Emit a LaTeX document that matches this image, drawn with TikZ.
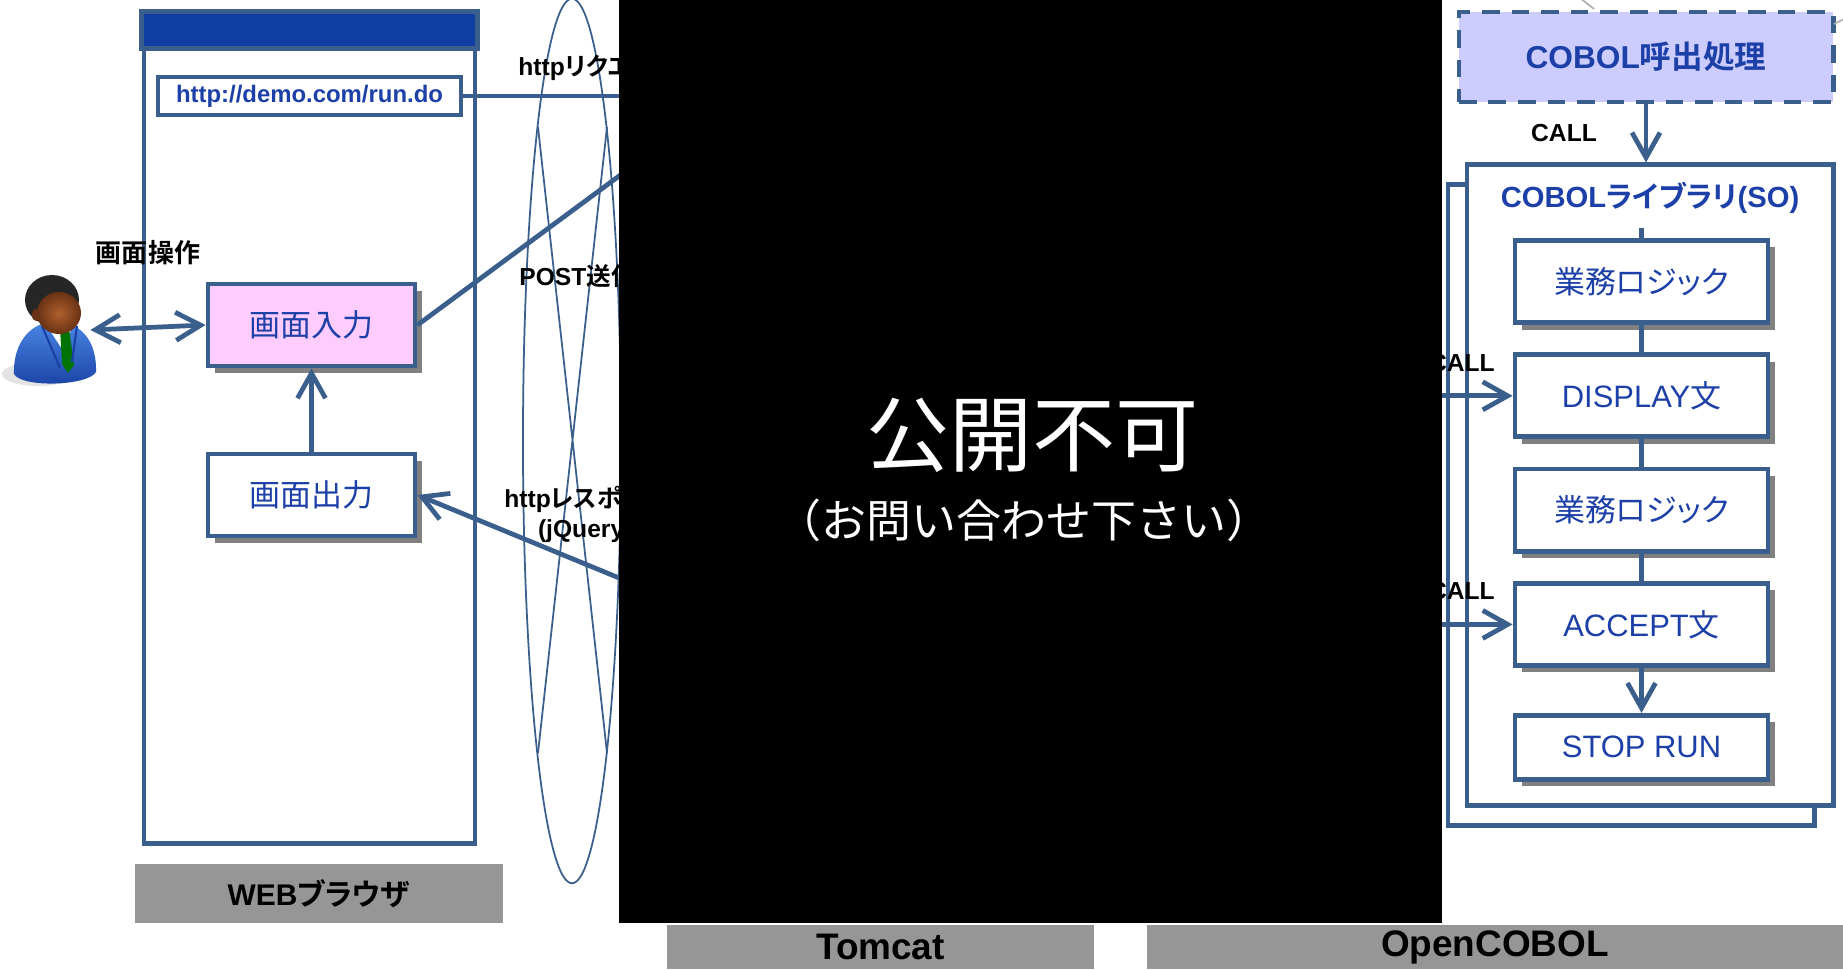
\documentclass[tikz,border=0pt]{standalone}
\usepackage{fontspec}
\setmainfont{Liberation Sans}
\newfontfamily\jp{Noto Sans CJK JP}[BoldFont={Noto Sans CJK JP Bold},RawFeature=+palt]
\newfontfamily\jpfull{Noto Sans CJK JP}
\usetikzlibrary{positioning,arrows.meta,shadows}

\definecolor{frame}{RGB}{58,95,140}
\definecolor{txtblue}{RGB}{28,64,168}
\definecolor{barblue}{RGB}{16,62,165}
\definecolor{inpink}{RGB}{255,204,255}
\definecolor{calllav}{RGB}{204,204,255}
\definecolor{tag}{RGB}{150,150,150}
\definecolor{suitlight}{RGB}{75,135,228}
\definecolor{suitdark}{RGB}{25,65,165}
\definecolor{skin}{RGB}{175,95,45}
\definecolor{skindark}{RGB}{105,50,20}

\begin{document}
\begin{tikzpicture}[x=0.01cm,y=-0.01cm,
  node distance=0.275cm,
  line width=1.35pt,
  box/.style={draw=frame,fill=white,text=txtblue,minimum width=2.07cm,minimum height=0.82cm,
    font=\fontsize{8.8}{10}\selectfont,
    drop shadow={shadow xshift=0.07cm,shadow yshift=-0.07cm,fill=gray,opacity=1}},
  stepbox/.style={box,minimum width=2.53cm},
  lbl/.style={font=\bfseries\fontsize{7}{8.5}\selectfont,inner sep=0pt},
  tagbox/.style={fill=tag,inner sep=0pt,font=\bfseries\fontsize{10.5}{12}\selectfont},
  arr/.style={draw=frame,-{Straight Barb[length=2.5mm,width=2.8mm]}},
  dblarr/.style={draw=frame,{Straight Barb[length=2.5mm,width=2.8mm]}-{Straight Barb[length=2.5mm,width=2.8mm]}},
  wire/.style={draw=frame},
  thin/.style={draw=frame,line width=0.5pt}
  ]
  \useasboundingbox (0,0) rectangle (1843,969);
  \fill[white] (0,0) rectangle (1843,969);

  \draw[thin] (572,441) ellipse [x radius=0.49cm,y radius=4.42cm];
  \draw[thin] (538,127) -- (607,753) (607,127) -- (538,753);

  \node[draw=frame,fill=white,minimum width=3.31cm,minimum height=8.29cm] (browser) at (309.5,428.5) {};
  \draw[draw=frame,fill=barblue] (browser.north west) rectangle ([yshift=-0.37cm]browser.north east);
  \node[draw=frame,fill=white,minimum width=3.03cm,minimum height=0.38cm,inner sep=0pt,
    text=txtblue,font=\bfseries\fontsize{6.8}{8}\selectfont] (url) at (309.5,96) {http://demo.com/run.do};
  \node[box,fill=inpink] (nin) at (311.5,325) {\jp 画面入力};
  \node[box] (nout) at (311.5,495) {\jp 画面出力};

  \node[minimum width=0.66cm,minimum height=1.1cm,inner sep=0pt] (user) at (55,330) {};
  \fill[gray!22] (38,374) ellipse [x radius=0.36cm,y radius=0.12cm];
  \shade[top color=suitlight,bottom color=suitdark] (14,374) .. controls (13,340) and (33,322) .. (55,321)
    .. controls (80,322) and (97,340) .. (96,372) .. controls (88,386) and (22,388) .. cycle;
  \fill[white] (45,323) -- (73,323) -- (64,352) -- cycle;
  \fill[green!45!black] (60,328) -- (69,328) -- (74,365) -- (68,373) -- (62,364) -- cycle;
  \draw[suitdark,line width=0.6pt] (42,326) -- (60,368) (77,326) -- (72,362);
  \fill[black!85] (52,300) ellipse [x radius=0.27cm,y radius=0.25cm];
  \shade[inner color=skin,outer color=skindark] (59,313) ellipse [x radius=0.22cm,y radius=0.21cm];
  \fill[skindark] (36,315) ellipse [x radius=0.04cm,y radius=0.06cm];

  \node[font=\bfseries\fontsize{7.4}{9}\selectfont,inner sep=0pt] (op) at (148,253) {\jp 画面操作};
  \draw[dblarr] (user.east) -- (nin.west);
  \draw[arr] (nout) -- (nin);

  \coordinate (req) at (700,96);
  \coordinate (post) at (680,131);
  \coordinate (resp) at (680,603);
  \draw[wire] (url.east) -- (req);
  \draw[wire] (nin.east) -- (post);
  \draw[arr] (resp) -- (nout.east);

  \node[lbl,anchor=west] (lreq) at (516,68) {http{\jp リクエスト}};
  \node[lbl,anchor=west] (lpost) at (517,276) {POST{\jp 送信}};
  \node[lbl,align=center,anchor=north west] (lresp) at (502,484) {http{\jp レスポンス}\\(jQuery)};

  \node[draw=frame,dash pattern=on 5pt off 3.4pt,fill=calllav,minimum width=3.74cm,minimum height=0.90cm,
    text=txtblue,font=\bfseries\fontsize{9}{11}\selectfont] (caller) at (1646,57) {COBOL{\jp 呼出処理}};
  \node[draw=frame,fill=white,minimum width=3.66cm,minimum height=6.40cm] (libback) at (1631,505) {};
  \node[draw=frame,fill=white,minimum width=3.66cm,minimum height=6.40cm] (lib) at (1650,485) {};
  \node[text=txtblue,font=\bfseries\fontsize{8.3}{10}\selectfont] (libname) at (1650,198) {COBOL{\jp ライブラリ}(SO)};

  \node[stepbox] (logic1) at (1641.5,281.5) {\jp 業務ロジック};
  \node[stepbox,below=of logic1] (disp) {DISPLAY{\jp 文}};
  \node[stepbox,below=of disp] (logic2) {\jp 業務ロジック};
  \node[stepbox,below=of logic2] (accept) {ACCEPT{\jp 文}};
  \node[stepbox,below=0.45cm of accept,minimum height=0.64cm] (stop) {STOP RUN};

  \draw[wire] (logic1.north |- libname.south) -- (logic1.north);
  \draw[wire] (logic1) -- (disp) (disp) -- (logic2) (logic2) -- (accept);
  \draw[arr] (accept) -- (stop);
  \draw[arr] (caller.south) -- (caller.south |- lib.north);
  \node[lbl] (call1) at (1564,133) {CALL};

  \node[lbl,anchor=east] (call2) at (1497,363) {CALL};
  \node[lbl,anchor=east] (call3) at (1497,591) {CALL};
  \coordinate (feed) at (1400,0);
  \draw[arr] (disp.west -| feed) -- (disp.west);
  \draw[arr] (accept.west -| feed) -- (accept.west);

  \draw[gray!60,line width=0.5pt] (1580,-2) -- (1594,9);
  \draw[gray!60,line width=0.5pt] (1834,24) -- (1846,18);

  \fill[black] (619,0) rectangle (1442,923);
  \node[white,font=\jpfull\fontsize{23.6}{26}\selectfont] (nda) at (1032,435) {公開不可};
  \node[white,font=\jpfull\fontsize{12.8}{14}\selectfont] (ask) at (1024,520) {（お問い合わせ下さい）};

  \node[tagbox,minimum width=3.68cm,minimum height=0.59cm,font=\bfseries\fontsize{8.5}{10}\selectfont] (tweb) at (319,893.5) {WEB{\jp ブラウザ}};
  \node[tagbox,minimum width=4.27cm,minimum height=0.44cm] (ttom) at (880.5,947) {Tomcat};
  \node[tagbox,minimum width=6.96cm,minimum height=0.44cm] (tocb) at (1495,947) {OpenCOBOL};
\end{tikzpicture}
\end{document}
